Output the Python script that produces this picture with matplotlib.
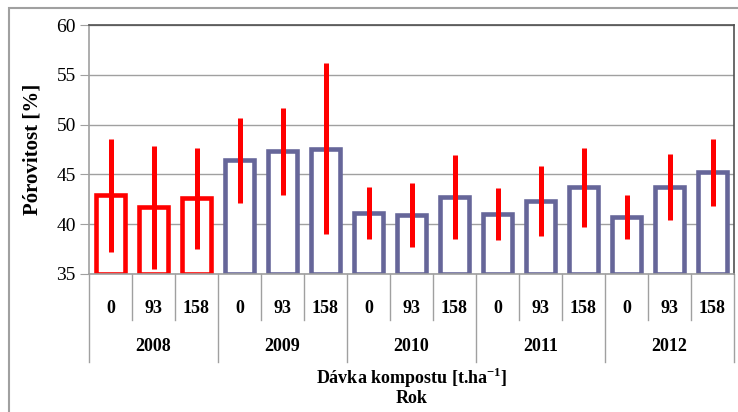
import numpy as np
import matplotlib.pyplot as plt
from matplotlib.patches import Rectangle
import matplotlib.transforms as mtransforms

plt.rcParams['font.family'] = ['Liberation Serif', 'DejaVu Serif']
plt.rcParams['mathtext.fontset'] = 'custom'
plt.rcParams['mathtext.rm'] = 'Liberation Serif'
plt.rcParams['mathtext.bf'] = 'Liberation Serif:bold'

# data
years = ['2008', '2009', '2010', '2011', '2012']
doses = ['0', '93', '158']
porosity = [42.9, 41.7, 42.6, 46.4, 47.3, 47.6, 41.1, 40.9, 42.7,
            41.0, 42.3, 43.7, 40.7, 43.7, 45.2]
sd = [5.7, 6.2, 5.1, 4.3, 4.4, 8.6, 2.6, 3.2, 4.2,
      2.6, 3.5, 4.0, 2.2, 3.3, 3.4]

RED = '#ff0000'
BLUE = '#666699'
GRID = '#a0a0a0'

fig = plt.figure(figsize=(7.38, 4.12), dpi=100)
ax = fig.add_axes([89 / 738, 1 - 274 / 412, 645 / 738, 249 / 412])

n = len(porosity)
x = np.arange(n)
edge = [RED if i // len(doses) == 0 else BLUE for i in range(n)]
vals = np.array(porosity)

ax.bar(x, vals - 35, bottom=35, width=0.68, facecolor='white',
       edgecolor=edge, linewidth=3.3, zorder=2)
ax.errorbar(x, vals, yerr=sd, fmt='none', ecolor=RED, elinewidth=3.6,
            capsize=0, zorder=3)

ax.set_xlim(-0.5, n - 0.5)
ax.set_ylim(35, 60)
ax.set_yticks(np.arange(35, 61, 5))
ax.yaxis.grid(True, color=GRID, linewidth=1, zorder=0)
ax.set_axisbelow(True)
ax.set_xticks([])
ax.tick_params(axis='y', length=6.5, color=GRID, labelsize=14, pad=3)
for sp in ['top', 'right']:
    ax.spines[sp].set_color('#505050')
for sp in ['left', 'bottom']:
    ax.spines[sp].set_color(GRID)
for sp in ax.spines.values():
    sp.set_linewidth(1.2)

ax.set_ylabel('Pórovitost [%]', fontsize=15, fontweight='bold', labelpad=10)

# category axis below the plot
trans = mtransforms.blended_transform_factory(ax.transData, ax.transAxes)
for b in range(n + 1):
    xb = b - 0.5
    low = -0.353 if b % len(doses) == 0 else -0.185
    ax.plot([xb, xb], [0, low], color=GRID, linewidth=1,
            transform=trans, clip_on=False)
for i in range(n):
    ax.text(i, -0.137, doses[i % len(doses)], transform=trans, ha='center',
            va='center', fontsize=13, fontweight='bold')
for j, yr in enumerate(years):
    ax.text(j * len(doses) + 1, -0.293, yr, transform=trans, ha='center',
            va='center', fontsize=13, fontweight='bold')

ax.text(0.5, -0.418, r'Dávka kompostu [t.ha$^{\mathbf{-1}}$]',
        transform=ax.transAxes, ha='center', va='center', fontsize=13,
        fontweight='bold')
ax.text(0.5, -0.5, 'Rok', transform=ax.transAxes, ha='center',
        va='center', fontsize=13, fontweight='bold')

fig.patches.append(Rectangle((9 / 738, -0.1), 1.2, 1 - 8 / 412 + 0.1,
                             transform=fig.transFigure, fill=False,
                             edgecolor=GRID, linewidth=1.5))

fig.savefig('out.png', dpi=100)
